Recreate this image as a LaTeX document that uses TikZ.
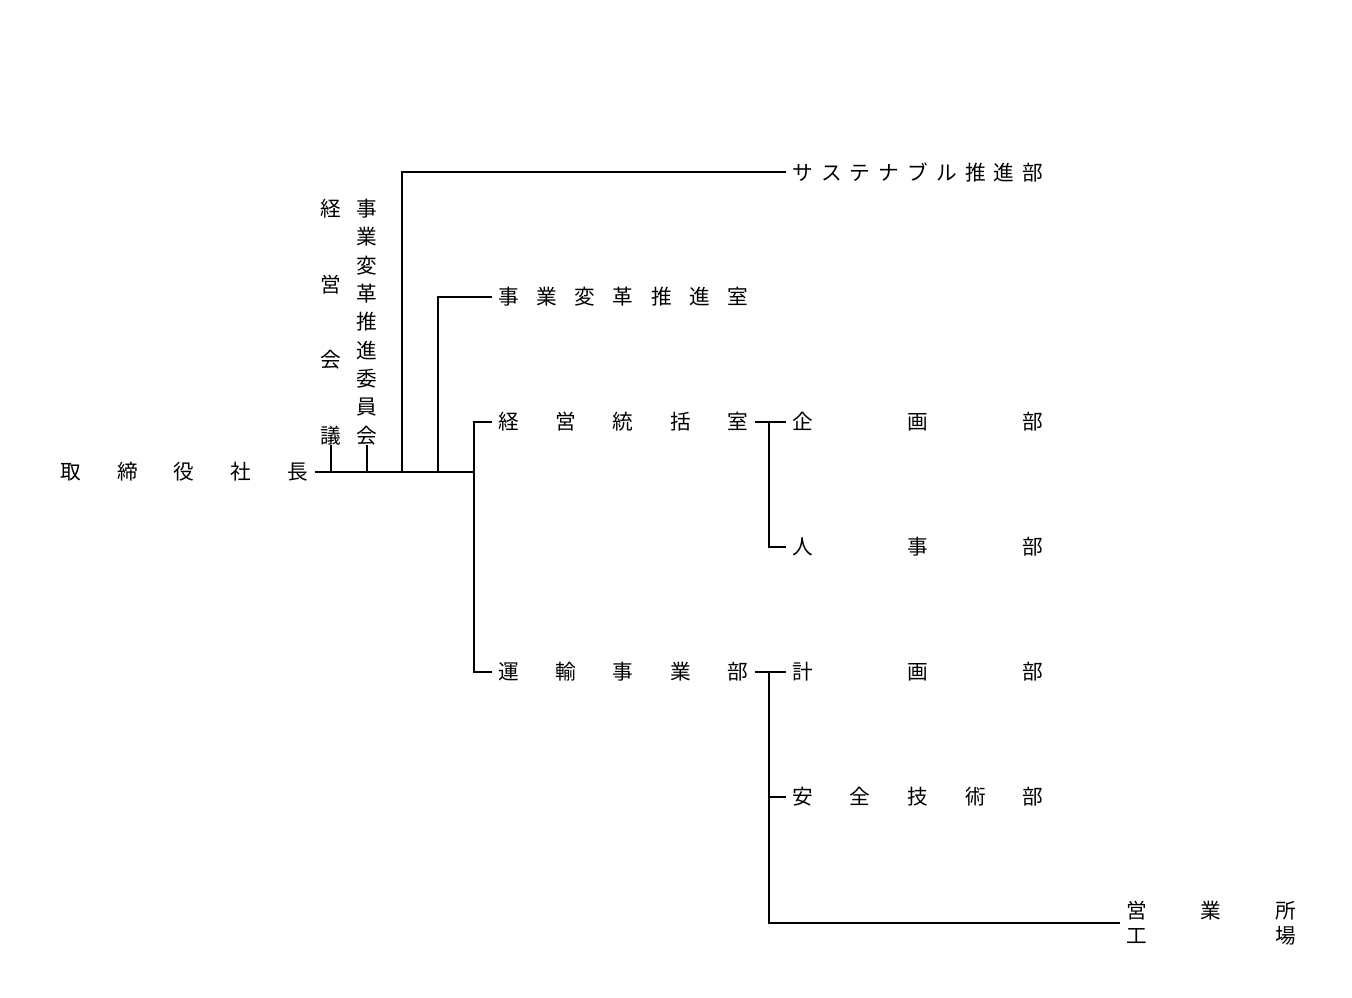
\documentclass[tikz,border=0pt]{standalone}
\usepackage{fontspec}
\setmainfont{Noto Sans CJK JP}
\begin{document}
\begin{tikzpicture}[x=0.75pt,y=-0.75pt]
\tikzset{
  lbl/.style={inner xsep=4.5pt, inner ysep=2pt, anchor=west, font=\fontsize{15.5pt}{19pt}\selectfont},
  vt/.style={inner sep=0pt, font=\fontsize{15.5pt}{19pt}\selectfont},
  ln/.style={line width=0.9pt}
}
\useasboundingbox (0,0) rectangle (1352,997);
\node[lbl] (shacho) at (54,472) {\makebox[186pt]{取\hfill 締\hfill 役\hfill 社\hfill 長}};
\node[vt] (kaigi) at (331,322) {\parbox[c][183pt][s]{2em}{\centering 経\par\vfill 営\par\vfill 会\par\vfill 議}};
\node[vt] (iinkai) at (367,322) {\parbox[c][183pt][s]{2em}{\centering 事\par\vfill 業\par\vfill 変\par\vfill 革\par\vfill 推\par\vfill 進\par\vfill 委\par\vfill 員\par\vfill 会}};
\node[lbl] (sus) at (786,172) {\makebox[188.25pt]{サ\hfill ス\hfill テ\hfill ナ\hfill ブ\hfill ル\hfill 推\hfill 進\hfill 部}};
\node[lbl] (henkaku) at (492,297) {\makebox[187.5pt]{事\hfill 業\hfill 変\hfill 革\hfill 推\hfill 進\hfill 室}};
\node[lbl] (tokatsu) at (492,422) {\makebox[187.5pt]{経\hfill 営\hfill 統\hfill 括\hfill 室}};
\node[lbl] (unyu) at (492,672) {\makebox[187.5pt]{運\hfill 輸\hfill 事\hfill 業\hfill 部}};
\node[lbl] (kikaku) at (786,422) {\makebox[188.25pt]{企\hfill 画\hfill 部}};
\node[lbl] (jinji) at (786,547) {\makebox[188.25pt]{人\hfill 事\hfill 部}};
\node[lbl] (keikaku) at (786,672) {\makebox[188.25pt]{計\hfill 画\hfill 部}};
\node[lbl] (anzen) at (786,797) {\makebox[188.25pt]{安\hfill 全\hfill 技\hfill 術\hfill 部}};
\node[lbl, align=left] (eigyo) at (1120,923) {\makebox[127.5pt]{営\hfill 業\hfill 所}\\\makebox[127.5pt]{工\hfill 場}};
\coordinate (j1) at (402,472);
\coordinate (j2) at (438,472);
\coordinate (j3) at (474,472);
\coordinate (b1) at (769,422);
\coordinate (b2) at (769,672);
\draw[ln] (shacho.east) -- (j3);
\draw[ln] (kaigi.south) -- (kaigi.south |- shacho.east);
\draw[ln] (iinkai.south) -- (iinkai.south |- shacho.east);
\draw[ln] (j1) |- (sus.west);
\draw[ln] (j2) |- (henkaku.west);
\draw[ln] (tokatsu.west) -| (j3) |- (unyu.west);
\draw[ln] (tokatsu.east) -- (kikaku.west);
\draw[ln] (b1) |- (jinji.west);
\draw[ln] (unyu.east) -- (keikaku.west);
\draw[ln] (b2) |- (eigyo.west);
\draw[ln] (b2 |- anzen.west) -- (anzen.west);
\end{tikzpicture}
\end{document}
